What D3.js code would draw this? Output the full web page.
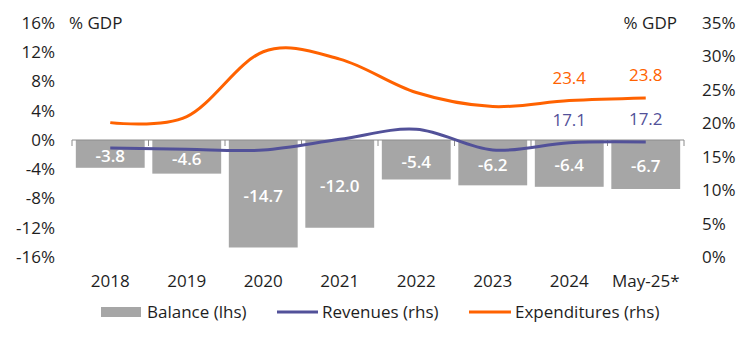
<!DOCTYPE html>
<html lang="en">
<head>
  <meta charset="UTF-8">
  <title>Budget balance</title>
  <style>
    body {
      margin: 0;
      background: #fff;
    }
    svg text {
      font-family: "Open Sans", "Noto Sans", sans-serif;
      font-size: 17px;
      fill: #1e1e1e;
    }
  </style>
</head>
<body>
  <svg></svg>
<script src="https://cdn.jsdelivr.net/npm/d3@7"></script>
<script>
  var width = 751
  var height = 343

  var years = ['2018', '2019', '2020', '2021', '2022', '2023', '2024', 'May-25*']
  var balance = [-3.8, -4.6, -14.7, -12.0, -5.4, -6.2, -6.4, -6.7]
  var revenues = [16.3, 16.1, 16.0, 17.6, 19.1, 16.0, 17.1, 17.2]
  var expenditures = [20.1, 21.0, 30.7, 29.6, 24.6, 22.5, 23.4, 23.8]
  var leftTicks = [-16, -12, -8, -4, 0, 4, 8, 12, 16]
  var rightTicks = [0, 5, 10, 15, 20, 25, 30, 35]
  var labelled = ['2024', 'May-25*']

  var gray = '#a6a6a6'
  var orange = '#ff6200'
  var purple = '#525199'

  var svg = d3.select('svg')
    .attr('width', width)
    .attr('height', height)

  var x = d3.scaleBand()
    .domain(years)
    .range([72, 684])
    .paddingInner(0.1)
    .paddingOuter(0.05)

  var yL = d3.scaleLinear().domain([-16, 16]).range([257, 23])
  var yR = d3.scaleLinear().domain([0, 35]).range([257, 23])

  var cx = d => x(d) + x.bandwidth() / 2

  // left axis labels
  svg.append('g').selectAll('text')
    .data(leftTicks)
    .enter().append('text')
    .attr('x', 55)
    .attr('y', d => yL(d))
    .attr('dy', '0.35em')
    .attr('text-anchor', 'end')
    .text(d => d + '%')

  // right axis labels
  svg.append('g').selectAll('text')
    .data(rightTicks)
    .enter().append('text')
    .attr('x', 702)
    .attr('y', d => yR(d))
    .attr('dy', '0.35em')
    .text(d => d + '%')

  svg.append('text').attr('x', 69).attr('y', 23).attr('dy', '0.35em').text('% GDP')
  svg.append('text').attr('x', 677).attr('y', 23).attr('dy', '0.35em')
    .attr('text-anchor', 'end').text('% GDP')

  // tick marks between categories
  var step = x.step()
  svg.append('g').selectAll('line')
    .data(d3.range(years.length + 1))
    .enter().append('line')
    .attr('x1', i => 72 + i * step)
    .attr('x2', i => 72 + i * step)
    .attr('y1', yL(0))
    .attr('y2', yL(0) + 6)
    .attr('stroke', '#8c8c8c')

  // bars
  svg.append('g').selectAll('rect')
    .data(balance)
    .enter().append('rect')
    .attr('x', (d, i) => x(years[i]))
    .attr('width', x.bandwidth())
    .attr('y', d => yL(Math.max(0, d)))
    .attr('height', d => Math.abs(yL(d) - yL(0)))
    .attr('fill', gray)

  svg.append('line')
    .attr('x1', 72).attr('x2', 684)
    .attr('y1', yL(0)).attr('y2', yL(0))
    .attr('stroke', '#8c8c8c')

  svg.append('g').selectAll('text')
    .data(balance)
    .enter().append('text')
    .attr('x', (d, i) => cx(years[i]))
    .attr('y', d => (yL(d) + yL(0)) / 2 + 2)
    .attr('dy', '0.35em')
    .attr('text-anchor', 'middle')
    .style('fill', '#fff')
    .style('font-weight', 600)
    .text(d => d.toFixed(1))

  // x labels
  svg.append('g').selectAll('text')
    .data(years)
    .enter().append('text')
    .attr('x', d => cx(d))
    .attr('y', 281)
    .attr('dy', '0.35em')
    .attr('text-anchor', 'middle')
    .text(d => d)

  var line = d3.line()
    .x((d, i) => cx(years[i]))
    .y(d => yR(d))
    .curve(d3.curveCardinal.tension(0))

  svg.append('path')
    .attr('d', line(revenues))
    .attr('fill', 'none')
    .attr('stroke', purple)
    .attr('stroke-width', 3)

  svg.append('path')
    .attr('d', line(expenditures))
    .attr('fill', 'none')
    .attr('stroke', orange)
    .attr('stroke-width', 3)

  // value labels for the last two points
  ;[[expenditures, orange], [revenues, purple]].forEach(([s, c]) => {
    svg.append('g').selectAll('text')
      .data(labelled)
      .enter().append('text')
      .attr('x', d => cx(d))
      .attr('y', d => yR(s[years.indexOf(d)]) - 23)
      .attr('dy', '0.35em')
      .attr('text-anchor', 'middle')
      .style('fill', c)
      .text(d => s[years.indexOf(d)].toFixed(1))
  })

  // legend
  var lg = svg.append('g').attr('transform', 'translate(0,312)')
  lg.append('rect').attr('x', 101).attr('y', -5).attr('width', 40).attr('height', 10).attr('fill', gray)
  lg.append('text').attr('x', 147).attr('dy', '0.35em').text('Balance (lhs)')
  lg.append('line').attr('x1', 277).attr('x2', 318).attr('stroke', purple).attr('stroke-width', 3)
  lg.append('text').attr('x', 322).attr('dy', '0.35em').text('Revenues (rhs)')
  lg.append('line').attr('x1', 469).attr('x2', 511).attr('stroke', orange).attr('stroke-width', 3)
  lg.append('text').attr('x', 515).attr('dy', '0.35em').text('Expenditures (rhs)')
</script>
</body>
</html>
